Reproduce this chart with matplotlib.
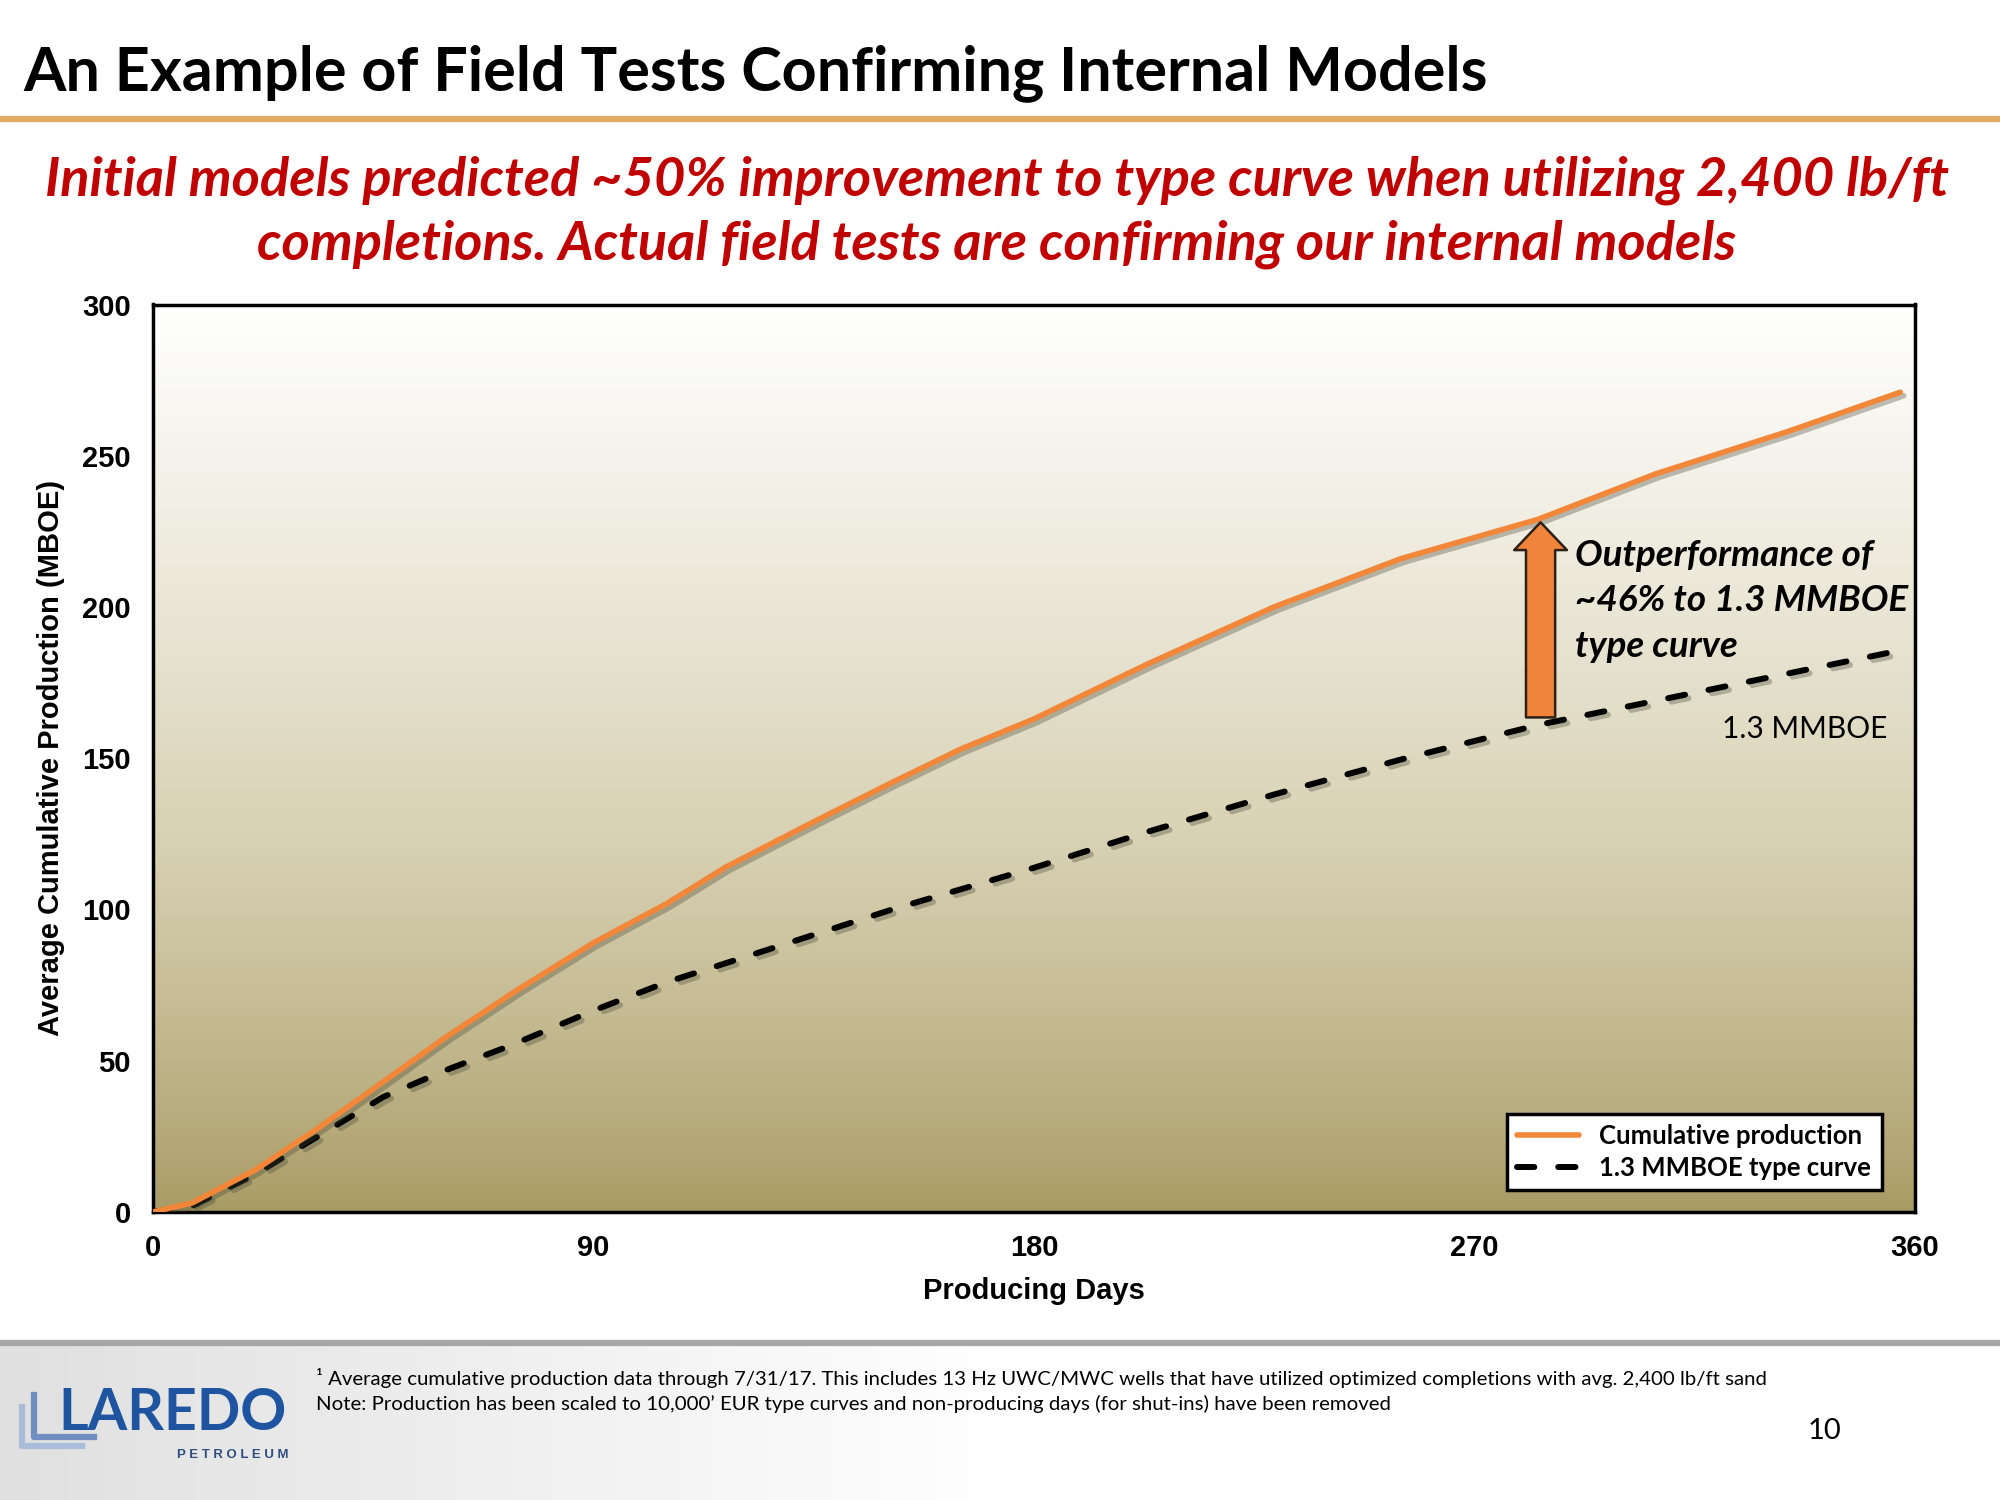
import numpy as np
import matplotlib
matplotlib.use("Agg")
import matplotlib.pyplot as plt
import matplotlib.patheffects as pe
from matplotlib.patches import FancyArrowPatch
from matplotlib.colors import LinearSegmentedColormap

# Data
days_actual = [0, 8, 21, 34, 47, 60, 75, 90, 105, 117, 135, 151, 165, 180, 203, 229, 255, 283, 307, 334, 357]
cum_actual = [0, 3, 14, 28, 43, 58, 74, 89, 102, 114, 129, 142, 153, 163, 181, 200, 216, 229, 244, 258, 271]

days_type = [0, 8, 21, 34, 47, 60, 73, 90, 105, 125, 151, 180, 203, 229, 255, 283, 310, 334, 358]
cum_type = [0, 2, 12.6, 25.3, 38, 47, 55, 66.6, 76, 86.4, 100, 113.8, 125.6, 138, 149.6, 161, 170, 178, 186]

x_ticks = [0, 90, 180, 270, 360]
y_ticks = [0, 50, 100, 150, 200, 250, 300]

arrow_day, arrow_from, arrow_to = 283.5, 163.5, 228

title = "An Example of Field Tests Confirming Internal Models"
subtitle1 = "Initial models predicted ~50% improvement to type curve when utilizing 2,400 lb/ft"
subtitle2 = "completions. Actual field tests are confirming our internal models"
note1 = ("\u00b9 Average cumulative production data through 7/31/17. This includes 13 Hz UWC/MWC wells "
         "that have utilized optimized completions with avg. 2,400 lb/ft sand")
note2 = ("Note: Production has been scaled to 10,000\u2019 EUR type curves and non-producing days "
         "(for shut-ins) have been removed")

ORANGE = "#F2873A"
SANS = ["Lato", "DejaVu Sans"]
ARIAL = ["Liberation Sans", "DejaVu Sans"]

fig = plt.figure(figsize=(20, 15), dpi=100)
fig.patch.set_facecolor("white")

# title bar
fig.text(0.0115, 0.951, title, fontsize=44, fontweight="bold", family=SANS, va="center", ha="left")
fig.add_artist(plt.Line2D([0, 1], [0.921, 0.921], color="#E3A962", lw=4.5, transform=fig.transFigure))
fig.text(0.4985, 0.880, subtitle1, fontsize=39, fontweight="bold", style="italic",
         color="#C00000", family=SANS, ha="center", va="center")
fig.text(0.4985, 0.837, subtitle2, fontsize=39, fontweight="bold", style="italic",
         color="#C00000", family=SANS, ha="center", va="center")

# footer background
fax = fig.add_axes([0, 0, 1, 0.103])
fax.imshow(np.linspace(0, 1, 256)[None, :], aspect="auto", extent=[0, 1, 0, 1],
           cmap=LinearSegmentedColormap.from_list("ft", ["#E0E0E0", "#FFFFFF", "#FFFFFF"]))
fax.set_axis_off()
fig.add_artist(plt.Line2D([0, 1], [0.1047, 0.1047], color="#A6A6A6", lw=4.5, transform=fig.transFigure))
fig.text(0.158, 0.0815, note1, fontsize=14.7, family=SANS, va="center")
fig.text(0.158, 0.064, note2, fontsize=14.7, family=SANS, va="center")
fig.text(0.912, 0.046, "10", fontsize=21, family=SANS, ha="center", va="center")
fig.text(0.029, 0.058, "LAREDO", fontsize=41, fontweight="bold", color="#1F55A0", family=SANS,
         va="center", ha="left")
fig.text(0.1166, 0.030, "P E T R O L E U M", fontsize=9.5, fontweight="bold", color="#2F4F80",
         family=ARIAL, ha="center", va="center")
# logo L-bars
for k, c in enumerate(["#A9BCD9", "#6F8FC0"]):
    xs = 0.011 + k * 0.006
    fig.add_artist(plt.Line2D([xs, xs, xs + 0.03], [0.062 + k * 0.008, 0.036 + k * 0.006, 0.036 + k * 0.006],
                              color=c, lw=4.5, transform=fig.transFigure))

# chart
ax = fig.add_axes([0.0765, 0.192, 0.881, 0.605])
grad = LinearSegmentedColormap.from_list("bg", ["#A89A63", "#D9D2B5", "#FFFFFF"])
ax.imshow(np.linspace(0, 1, 256)[:, None] ** 0.8, aspect="auto", extent=[0, 360, 0, 300],
          cmap=grad, origin="lower", zorder=0)

shadow = [pe.SimpleLineShadow(offset=(2.5, -2.5), alpha=0.35, shadow_color="#4A4A3A"), pe.Normal()]
ax.plot(days_type, cum_type, color="black", lw=4.3, dashes=(2.9, 4.0), dash_capstyle="round",
        path_effects=shadow, label="1.3 MMBOE type curve", zorder=3)
ax.plot(days_actual, cum_actual, color=ORANGE, lw=4.0, solid_capstyle="round",
        path_effects=shadow, label="Cumulative production", zorder=4)

arrow = FancyArrowPatch((arrow_day, arrow_from), (arrow_day, arrow_to),
                        arrowstyle="simple,head_length=20,head_width=38,tail_width=21",
                        mutation_scale=1, shrinkA=0, shrinkB=0, fc="#F0843A", ec="#2E2015", lw=1.8, zorder=5)
ax.add_patch(arrow)

ax.text(290.5, 202, "Outperformance of\n~46% to 1.3 MMBOE\ntype curve", fontsize=26.5, fontweight="bold",
        style="italic", family=SANS, va="center", ha="left", linespacing=1.45, zorder=6)
ax.text(337.5, 159.7, "1.3 MMBOE", fontsize=21.5, family=SANS, ha="center", va="center", zorder=6)

ax.set_xlim(0, 360)
ax.set_ylim(0, 300)
ax.set_xticks(x_ticks)
ax.set_yticks(y_ticks)
ax.tick_params(length=0, pad=16, labelsize=21)
for lab in ax.get_xticklabels() + ax.get_yticklabels():
    lab.set_fontweight("bold")
    lab.set_family(ARIAL)
for s in ax.spines.values():
    s.set_linewidth(2.5)
    s.set_color("black")

ax.set_xlabel("Producing Days", fontsize=21, fontweight="bold", family=ARIAL)
ax.set_ylabel("Average Cumulative Production (MBOE)", fontsize=21, fontweight="bold", family=ARIAL)
ax.xaxis.set_label_coords(0.5, -0.072)
ax.yaxis.set_label_coords(-0.050, 0.5)

handles, labels = ax.get_legend_handles_labels()
leg = ax.legend(handles[::-1], labels[::-1], loc="lower right", bbox_to_anchor=(0.981, 0.024),
                borderaxespad=0, fancybox=False, framealpha=1, edgecolor="black",
                handlelength=2.4, labelspacing=0.3, prop={"family": SANS, "weight": "bold", "size": 18.5})
leg.get_frame().set_linewidth(2.5)
for h in leg.get_lines():
    h.set_path_effects([])

fig.savefig("out.png", dpi=100)
